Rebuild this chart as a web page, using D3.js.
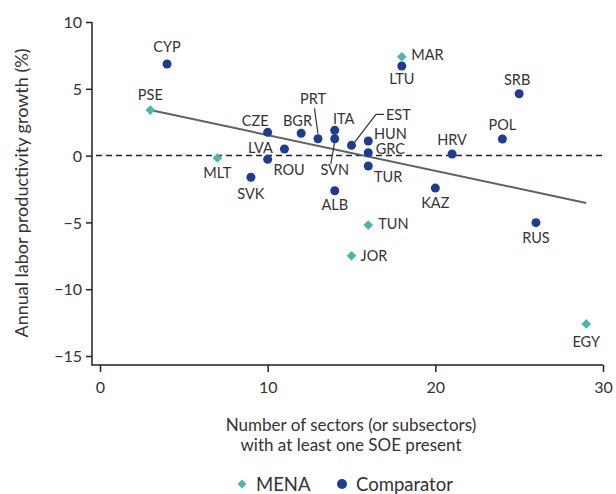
<!DOCTYPE html>
<html>
<head>
<meta charset="utf-8">
<script src="https://cdn.jsdelivr.net/npm/d3@7"></script>
<style>
  html, body { margin: 0; padding: 0; background: #fff; }
  svg { display: block; font-family: Lato, "Open Sans", sans-serif; }
</style>
</head>
<body>
<svg id="chart" width="616" height="494"></svg>
<script>
// Economies, SOE-presence counts and labor productivity growth
const codes  = ["CYP","PSE","MLT","CZE","LVA","ROU","SVK","BGR","PRT","ITA","SVN","ALB","EST",
                "HUN","GRC","TUR","TUN","JOR","MAR","LTU","KAZ","HRV","POL","SRB","RUS","EGY"];
const groups = ["Comparator","MENA","MENA","Comparator","Comparator","Comparator","Comparator",
                "Comparator","Comparator","Comparator","Comparator","Comparator","Comparator",
                "Comparator","Comparator","Comparator","MENA","MENA","MENA","Comparator",
                "Comparator","Comparator","Comparator","Comparator","Comparator","MENA"];
const sectors = [4, 3, 7, 10, 11, 10, 9, 12, 13, 14, 14, 14, 15,
                 16, 16, 16, 16, 15, 18, 18, 20, 21, 24, 25, 26, 29];
const growth  = [6.86, 3.41, -0.18, 1.74, 0.49, -0.28, -1.62, 1.67, 1.26, 1.89, 1.26, -2.63, 0.77,
                 1.09, 0.22, -0.78, -5.2, -7.5, 7.40, 6.71, -2.43, 0.12, 1.24, 4.63, -5.02, -12.60];

// Fitted trend line end points
const trendX = [3, 29];
const trendY = [3.41, -3.55];

const xTicks = [0, 10, 20, 30];
const yTicks = [10, 5, 0, -5, -10, -15];
const legendGroups = ["MENA", "Comparator"];

// Label placement relative to each marker (pixels)
const labelSpots = {
  CYP: {dx: 0, dy: -17, a: "middle"},  PSE: {dx: 0, dy: -15, a: "middle"},
  MLT: {dx: 0, dy: 15, a: "middle"},   CZE: {dx: -12.5, dy: -11.6, a: "middle"},
  LVA: {dx: -24, dy: -1.7, a: "middle"}, ROU: {dx: 21.4, dy: 10, a: "middle"},
  SVK: {dx: 0, dy: 17, a: "middle"},   BGR: {dx: -3.7, dy: -12.6, a: "middle"},
  PRT: {dx: -5, dy: -39.7, a: "middle", leader: [[-3.5, -30.5], [0, -5]]},
  ITA: {dx: 9, dy: -12, a: "middle"},
  SVN: {dx: 0, dy: 31.3, a: "middle", leader: [[-4, 25.5], [0, 3]]},
  ALB: {dx: 0, dy: 14.3, a: "middle"},
  EST: {dx: 34.5, dy: -31, a: "start", leader: [[32.5, -31], [24.5, -31], [3, -3]]},
  HUN: {dx: 5.7, dy: -7.7, a: "start"}, GRC: {dx: 7.4, dy: -3.7, a: "start"},
  TUR: {dx: 5.7, dy: 10.7, a: "start"}, TUN: {dx: 10, dy: -1, a: "start"},
  JOR: {dx: 9, dy: 0, a: "start"},     MAR: {dx: 9.4, dy: -1.7, a: "start"},
  LTU: {dx: 0, dy: 13.3, a: "middle"}, KAZ: {dx: 0, dy: 14.3, a: "middle"},
  HRV: {dx: 0, dy: -14.7, a: "middle"}, POL: {dx: 0, dy: -14, a: "middle"},
  SRB: {dx: -2, dy: -13.7, a: "middle"}, RUS: {dx: 0, dy: 15, a: "middle"},
  EGY: {dx: 0, dy: 17.7, a: "middle"}
};

const colors = {MENA: "#4db6ac", Comparator: "#1f3b92"};
const textColor = "#333";

const svg = d3.select("#chart");

const x = d3.scaleLinear().domain([0, 30]).range([100, 603]);
const y = d3.scaleLinear().domain([-15, 10]).range([356, 22]);
const axisLeftX = 92, axisBottomY = 365;

// Axes
const yAxis = svg.append("g")
  .attr("transform", `translate(${axisLeftX},0)`)
  .call(d3.axisLeft(y).tickValues(yTicks).tickSize(6).tickSizeOuter(0)
        .tickFormat(d => d < 0 ? "\u2212" + Math.abs(d) : d));
yAxis.select(".domain").remove();

const xAxis = svg.append("g")
  .attr("transform", `translate(0,${axisBottomY})`)
  .call(d3.axisBottom(x).tickValues(xTicks).tickSize(7).tickSizeOuter(0));
xAxis.select(".domain").remove();

[yAxis, xAxis].forEach(g => {
  g.selectAll(".tick line").attr("stroke", "#222").attr("stroke-width", 1.5);
  g.selectAll(".tick text").attr("fill", textColor).style("font-size", "16px")
    .style("font-family", "Lato, sans-serif");
});
yAxis.selectAll(".tick text").attr("x", -10).attr("dy", "0.36em");
xAxis.selectAll(".tick text").attr("y", 22).attr("dy", "0.36em");

svg.append("path")
  .attr("d", `M${axisLeftX},${y(10)}V${axisBottomY}H${x(30)}`)
  .attr("fill", "none").attr("stroke", "#222").attr("stroke-width", 1.5);

// Zero reference line
svg.append("line")
  .attr("x1", axisLeftX + 4).attr("x2", x(30))
  .attr("y1", y(0)).attr("y2", y(0))
  .attr("stroke", "#222").attr("stroke-width", 1.5).attr("stroke-dasharray", "6,4");

// Trend line
svg.append("line")
  .attr("x1", x(trendX[0])).attr("y1", y(trendY[0]))
  .attr("x2", x(trendX[1])).attr("y2", y(trendY[1]))
  .attr("stroke", "#5a6367").attr("stroke-width", 2);

const pts = codes.map((c, i) => ({code: c, group: groups[i], sx: sectors[i], gy: growth[i]}));

// Leader lines
pts.filter(p => labelSpots[p.code].leader).forEach(p => {
  const px = x(p.sx), py = y(p.gy);
  svg.append("path")
    .attr("d", d3.line()(labelSpots[p.code].leader.map(([dx, dy]) => [px + dx, py + dy])))
    .attr("fill", "none").attr("stroke", "#333").attr("stroke-width", 1.2);
});

// Markers
const diamond = d3.symbol().type(d3.symbolDiamond2).size(60);
svg.append("g").selectAll("path")
  .data(pts.filter(p => p.group === "MENA"))
  .join("path")
  .attr("d", diamond)
  .attr("transform", p => `translate(${x(p.sx)},${y(p.gy)})`)
  .attr("fill", colors.MENA);

svg.append("g").selectAll("circle")
  .data(pts.filter(p => p.group === "Comparator"))
  .join("circle")
  .attr("cx", p => x(p.sx)).attr("cy", p => y(p.gy)).attr("r", 4.5)
  .attr("fill", colors.Comparator);

// Country labels
svg.append("g").selectAll("text")
  .data(pts)
  .join("text")
  .attr("x", p => x(p.sx) + labelSpots[p.code].dx)
  .attr("y", p => y(p.gy) + labelSpots[p.code].dy)
  .attr("dy", "0.36em")
  .attr("text-anchor", p => labelSpots[p.code].a)
  .attr("fill", textColor)
  .style("font-size", "14.5px")
  .text(p => p.code);

// Axis titles
svg.append("text")
  .attr("transform", "translate(22,193) rotate(-90)")
  .attr("text-anchor", "middle").attr("dy", "0.36em")
  .attr("fill", textColor).style("font-size", "18px")
  .text("Annual labor productivity growth (%)");

svg.append("text")
  .attr("x", 351).attr("y", 425).attr("dy", "0.36em")
  .attr("text-anchor", "middle").attr("fill", textColor).style("font-size", "17px")
  .text("Number of sectors (or subsectors)");
svg.append("text")
  .attr("x", 351).attr("y", 444.5).attr("dy", "0.36em")
  .attr("text-anchor", "middle").attr("fill", textColor).style("font-size", "17px")
  .text("with at least one SOE present");

// Legend
const legend = svg.append("g");
const legendX = [242, 342];
legendGroups.forEach((g, i) => {
  const lx = legendX[i], ly = 484;
  if (g === "MENA") {
    legend.append("path").attr("d", d3.symbol().type(d3.symbolDiamond2).size(50))
      .attr("transform", `translate(${lx},${ly})`).attr("fill", colors[g]);
  } else {
    legend.append("circle").attr("cx", lx).attr("cy", ly).attr("r", 5).attr("fill", colors[g]);
  }
  legend.append("text")
    .attr("x", lx + 14).attr("y", ly).attr("dy", "0.36em")
    .attr("fill", textColor).style("font-size", "18.5px")
    .text(g);
});
</script>
</body>
</html>
